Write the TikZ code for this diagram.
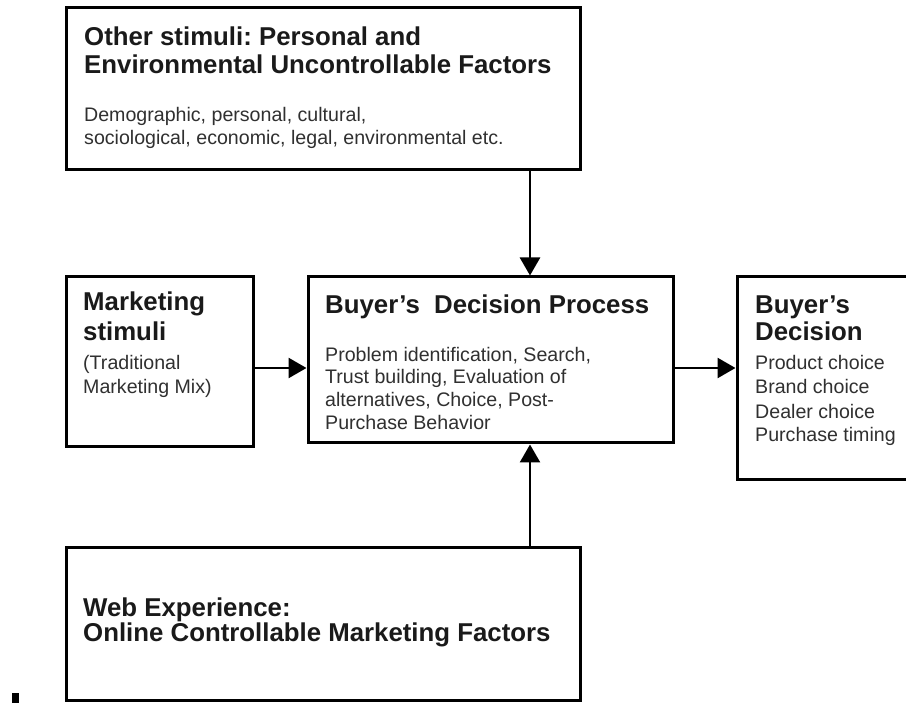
\documentclass[tikz,border=0pt]{standalone}
\usepackage{fontspec}
\setmainfont{Liberation Sans}
\usetikzlibrary{arrows.meta}
\frenchspacing
\definecolor{titlecol}{HTML}{1A1A1A}
\definecolor{bodycol}{HTML}{303030}
\tikzset{
  boxnode/.style={draw=black, line width=3pt, rectangle, inner sep=0pt, fill=none},
  ttl/.style={anchor=base west, inner sep=0pt, text=titlecol, font=\bfseries\fontsize{25.8}{28}\selectfont},
  bdy/.style={anchor=base west, inner sep=0pt, text=bodycol, font=\fontsize{19.6}{23}\selectfont},
  arr/.style={line width=2.6pt, -{Triangle[length=18pt, width=20pt]}, shorten >=0pt}
}
\begin{document}
\begin{tikzpicture}[x=1pt,y=-1pt]
\useasboundingbox (0,0) rectangle (906,703);
\clip (0,0) rectangle (906,703);
\fill[white] (0,0) rectangle (906,703);
% boxes
\node[boxnode, minimum width=514pt, minimum height=162pt] (top) at (323,89) {};
\node[boxnode, minimum width=187pt, minimum height=170pt] (mkt) at (159.5,362) {};
\node[boxnode, minimum width=365pt, minimum height=166pt] (bdp) at (490.5,360) {};
\node[boxnode, minimum width=175pt, minimum height=203pt] (bd) at (824.5,378.5) {};
\node[boxnode, minimum width=514pt, minimum height=153pt] (web) at (323,623.5) {};
% texts
\node[ttl] (t1) at (84,46) {Other stimuli: Personal and};
\node[ttl] (t2) at (84,74) {Environmental Uncontrollable Factors};
\node[bdy] (t3) at (84,122) {Demographic, personal, cultural,};
\node[bdy] (t4) at (84,145) {sociological, economic, legal, environmental etc.};
\node[ttl] (m1) at (83,311) {Marketing};
\node[ttl] (m2) at (83,341) {stimuli};
\node[bdy] (m3) at (83,370) {(Traditional};
\node[bdy] (m4) at (83,394) {Marketing Mix)};
\node[ttl] (p1) at (325,314) {Buyer’s\ \ Decision Process};
\node[bdy] (p2) at (325,362) {Problem identification, Search,};
\node[bdy] (p3) at (325,384) {Trust building, Evaluation of};
\node[bdy] (p4) at (325,407) {alternatives, Choice, Post-};
\node[bdy] (p5) at (325,430) {Purchase Behavior};
\node[ttl] (d1) at (755,314) {Buyer’s};
\node[ttl] (d2) at (755,341) {Decision};
\node[bdy] (d3) at (755,370) {Product choice};
\node[bdy] (d4) at (755,394) {Brand choice};
\node[bdy] (d5) at (755,419) {Dealer choice};
\node[bdy] (d6) at (755,442) {Purchase timing};
\node[ttl] (w1) at (83,616) {Web Experience:};
\node[ttl] (w2) at (83,641) {Online Controllable Marketing Factors};
% connectors
\coordinate (ax) at (530,0);
\coordinate (ay) at (0,368);
\draw[arr] (top.south -| ax) -- (bdp.north -| ax);
\draw[arr] (web.north -| ax) -- (bdp.south -| ax);
\draw[arr] (mkt.east |- ay) -- (bdp.west |- ay);
\draw[arr] (bdp.east |- ay) -- (bd.west |- ay);
% small mark
\fill[black] (12,693) rectangle (19,703);
\end{tikzpicture}
\end{document}
